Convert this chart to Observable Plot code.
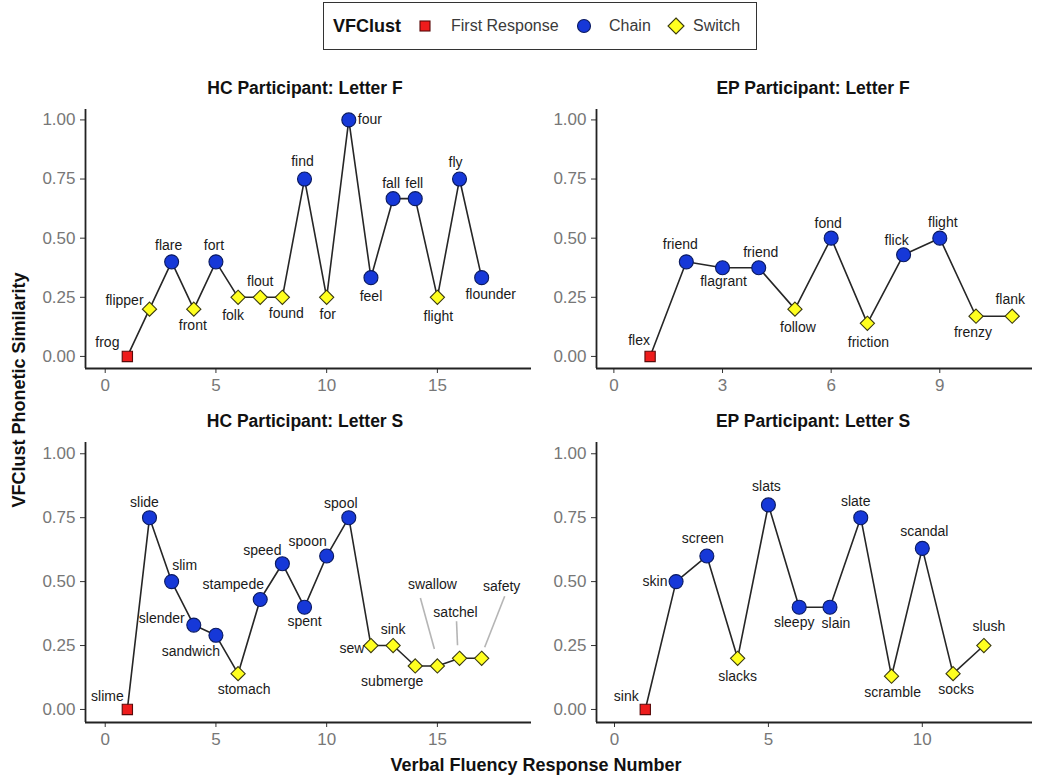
<!DOCTYPE html>
<html><head><meta charset="utf-8">
<script src="https://cdn.jsdelivr.net/npm/d3@7"></script>
<script src="https://cdn.jsdelivr.net/npm/@observablehq/plot@0.6"></script>
<style>
body{margin:0;background:#fff;font-family:"Liberation Sans",Arial,Helvetica,sans-serif;}
#wrap{position:relative;width:1050px;height:782px;overflow:hidden;background:#fff;}
.abs{position:absolute;white-space:nowrap;}
.ptitle{font-weight:bold;font-size:17.5px;color:#111;transform:translate(-50%,-50%);}
.atitle{font-weight:bold;font-size:18px;color:#111;}
.leg{border:1.5px solid #333;box-sizing:border-box;}
.legtxt{font-size:16px;color:#3a3a3a;transform:translateY(-50%);}
</style></head><body><div id="wrap"></div>
<script>
// ---------- data ----------
const clusterTypes = ["First Response", "Chain", "Switch"];

const hcFWords = ["frog","flipper","flare","front","fort","folk","flout","found","find","for","four","feel","fall","fell","flight","fly","flounder"];
const hcFValues = [0.00,0.20,0.40,0.20,0.40,0.25,0.25,0.25,0.75,0.25,1.00,0.333,0.667,0.667,0.25,0.75,0.333];
const hcFTypes = ["First Response","Switch","Chain","Switch","Chain","Switch","Switch","Switch","Chain","Switch","Chain","Chain","Chain","Chain","Switch","Chain","Chain"];

const epFWords = ["flex","friend","flagrant","friend","follow","fond","friction","flick","flight","frenzy","flank"];
const epFValues = [0.00,0.40,0.375,0.375,0.20,0.50,0.14,0.43,0.50,0.17,0.17];
const epFTypes = ["First Response","Chain","Chain","Chain","Switch","Chain","Switch","Chain","Chain","Switch","Switch"];

const hcSWords = ["slime","slide","slim","slender","sandwich","stomach","stampede","speed","spent","spoon","spool","sew","sink","submerge","swallow","satchel","safety"];
const hcSValues = [0.00,0.75,0.50,0.33,0.29,0.14,0.43,0.57,0.40,0.60,0.75,0.25,0.25,0.17,0.17,0.20,0.20];
const hcSTypes = ["First Response","Chain","Chain","Chain","Chain","Switch","Chain","Chain","Chain","Chain","Chain","Switch","Switch","Switch","Switch","Switch","Switch"];

const epSWords = ["sink","skin","screen","slacks","slats","sleepy","slain","slate","scramble","scandal","socks","slush"];
const epSValues = [0.00,0.50,0.60,0.20,0.80,0.40,0.40,0.75,0.13,0.63,0.14,0.25];
const epSTypes = ["First Response","Chain","Chain","Switch","Chain","Chain","Chain","Chain","Switch","Chain","Switch","Switch"];

const yTicks = [0, 0.25, 0.5, 0.75, 1];

// ---------- label layout (pixel nudges from each point, repel-style) ----------
const hcFNudge = [[-20,-14],[-25,-9],[-3,-16],[-1,16],[-2,-16],[-5,18],[0,-16],[4,16],[-2,-18],[1,17],[21,0],[0,19],[-2,-15],[-1,-15],[1,19],[-4,-17],[9,17]];
const epFNudge = [[-11,-16],[-6,-17],[1,14],[2,-15],[3,18],[-3,-15],[1,19],[-7,-14],[3,-16],[-3,16],[-2,-17]];
const hcSNudge = [[-20,-13],[-5,-15],[13,-16],[-32,-7],[-25,16],[6,16],[-27,-15],[-20,-13],[0,14],[-19,-15],[-8,-14],[-19,3],[0,-16],[-23,16],[-5,-81],[-4,-46],[20,-72]];
const epSNudge = [[-19,-13],[-21,0],[-4,-18],[0,18],[-2,-18],[-5,15],[6,16],[-5,-16],[1,16],[2,-17],[3,16],[5,-19]];
// leader segments (index, start nudge, end nudge)
const hcSLeaders = [[14,[-17,-68],[-3,-17]],[15,[-3,-37],[-2,-13]],[16,[23,-62],[3,-11]]];

const FONT = '"Liberation Sans",Arial,Helvetica,sans-serif';
const yDomain = [-0.051, 1.044];
const colors = {"First Response":"#ee1c1c","Chain":"#1638d8","Switch":"#ffff1f"};
const strokes = {"First Response":"#5a0a0a","Chain":"#0a1a60","Switch":"#3a3a10"};

function panel(cfg){
  const {words, values, types, nudge, leaders=[], xDomain, xTicks, left, top, width, height, mL, mR, mT, mB} = cfg;
  const data = words.map((w,i)=>({n:i+1, word:w, v:values[i], type:types[i]}));
  const kx = (width-mL-mR)/(xDomain[1]-xDomain[0]);
  const ky = (height-mT-mB)/(yDomain[1]-yDomain[0]);
  const labels = data.map((d,i)=>({word:d.word, x:d.n + nudge[i][0]/kx, y:d.v - nudge[i][1]/ky}));
  const segs = leaders.map(([i,a,b])=>({x1:data[i].n + a[0]/kx, y1:data[i].v - a[1]/ky, x2:data[i].n + b[0]/kx, y2:data[i].v - b[1]/ky}));
  const dotMark = (t, symbol, r) => Plot.dot(data.filter(d=>d.type===t), {x:"n", y:"v", symbol, r, fill:colors[t], stroke:strokes[t], strokeWidth:1.1});
  const chart = Plot.plot({
    width, height, marginLeft:mL, marginRight:mR, marginTop:mT, marginBottom:mB,
    style:{fontFamily:FONT, background:"transparent"},
    x:{domain:xDomain, label:null},
    y:{domain:yDomain, label:null},
    marks:[
      Plot.axisX({ticks:xTicks, tickSize:5, tickPadding:5, fontSize:17, stroke:"#333", fill:"#777", label:null}),
      Plot.axisY({ticks:yTicks, tickSize:5, tickPadding:5, fontSize:17, stroke:"#333", fill:"#777", tickFormat:d3.format(".2f"), label:null}),
      Plot.ruleX([xDomain[0]], {stroke:"#222", strokeWidth:1.8}),
      Plot.ruleY([yDomain[0]], {stroke:"#222", strokeWidth:1.8}),
      Plot.link(segs, {x1:"x1", y1:"y1", x2:"x2", y2:"y2", stroke:"#b5b5b5", strokeWidth:1.6}),
      Plot.line(data, {x:"n", y:"v", stroke:"#262626", strokeWidth:1.6}),
      dotMark("First Response", "square", 5.8),
      dotMark("Chain", "circle", 7),
      dotMark("Switch", "diamond2", 6.4),
      Plot.text(labels, {x:"x", y:"y", text:"word", fontSize:14, fill:"#1a1a1a", textAnchor:"middle", lineAnchor:"middle"})
    ]
  });
  chart.style.position = "absolute";
  chart.style.left = left + "px";
  chart.style.top = top + "px";
  return chart;
}

const wrap = document.getElementById("wrap");
function addDiv(cls, text, x, y, extra){
  const d = document.createElement("div");
  d.className = "abs " + cls;
  d.textContent = text;
  d.style.left = x + "px"; d.style.top = y + "px";
  if (extra) Object.assign(d.style, extra);
  wrap.appendChild(d);
  return d;
}

wrap.appendChild(panel({words:hcFWords, values:hcFValues, types:hcFTypes, nudge:hcFNudge, xDomain:[-0.89,19.25], xTicks:[0,5,10,15], left:40, top:100, width:500, height:300, mL:45, mR:9, mT:9, mB:32}));
wrap.appendChild(panel({words:epFWords, values:epFValues, types:epFTypes, nudge:epFNudge, xDomain:[-0.48,11.56], xTicks:[0,3,6,9], left:550, top:100, width:500, height:300, mL:46, mR:18, mT:9, mB:32}));
wrap.appendChild(panel({words:hcSWords, values:hcSValues, types:hcSTypes, nudge:hcSNudge, leaders:hcSLeaders, xDomain:[-0.89,19.25], xTicks:[0,5,10,15], left:40, top:432, width:500, height:320, mL:45, mR:9, mT:10, mB:30}));
wrap.appendChild(panel({words:epSWords, values:epSValues, types:epSTypes, nudge:epSNudge, xDomain:[-0.585,13.58], xTicks:[0,5,10], left:550, top:432, width:500, height:320, mL:46, mR:18, mT:10, mB:30}));

// panel titles
addDiv("ptitle", "HC Participant: Letter F", 305, 88);
addDiv("ptitle", "EP Participant: Letter F", 813, 88);
addDiv("ptitle", "HC Participant: Letter S", 305, 421);
addDiv("ptitle", "EP Participant: Letter S", 813, 421);

// axis titles
addDiv("atitle", "Verbal Fluency Response Number", 536, 765, {transform:"translate(-50%,-50%)"});
addDiv("atitle", "VFClust Phonetic Similarity", 19, 390, {transform:"translate(-50%,-50%) rotate(-90deg)"});

// legend
const leg = addDiv("leg", "", 323, 2, {width:"434px", height:"48px"});
addDiv("atitle", "VFClust", 333, 26, {transform:"translateY(-50%)"});
const legX = [425, 584, 676];
const legTextX = [451, 609, 693];
const symSvg = {
  "First Response": '<rect x="-5" y="-5" width="10" height="10"/>',
  "Chain": '<circle r="6.5"/>',
  "Switch": '<path d="M0,-8L8,0L0,8L-8,0Z"/>'
};
clusterTypes.forEach((t,i)=>{
  const s = document.createElementNS("http://www.w3.org/2000/svg","svg");
  s.setAttribute("width","20"); s.setAttribute("height","20");
  s.setAttribute("viewBox","-10 -10 20 20");
  s.style.position="absolute"; s.style.left=(legX[i]-10)+"px"; s.style.top=(26-10)+"px";
  s.innerHTML = `<g fill="${colors[t]}" stroke="${strokes[t]}" stroke-width="1.1">${symSvg[t]}</g>`;
  wrap.appendChild(s);
  addDiv("legtxt", t, legTextX[i], 26);
});
</script>
</body></html>
